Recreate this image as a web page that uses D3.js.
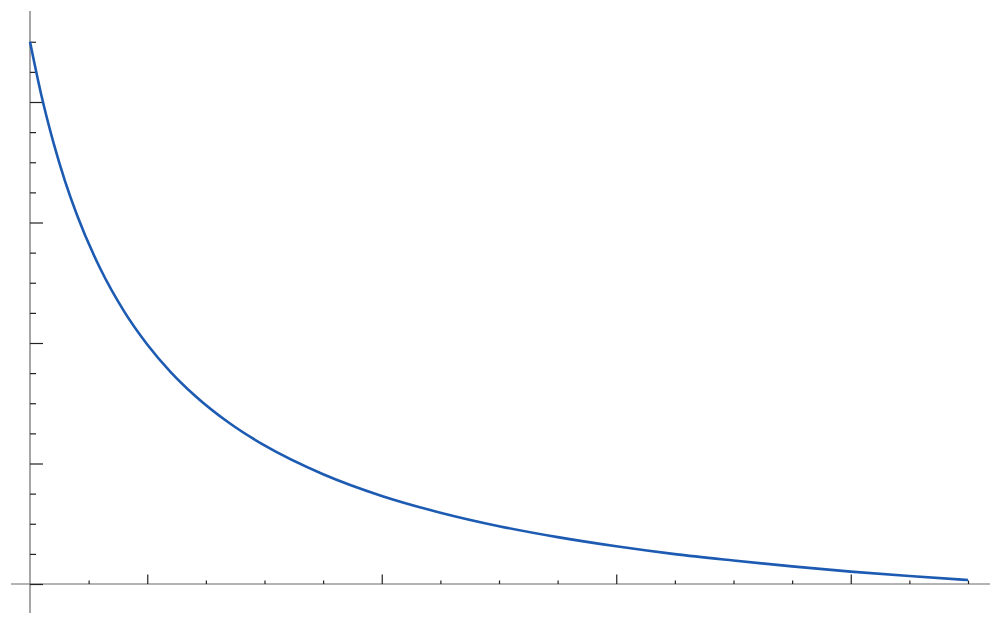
<!DOCTYPE html>
<html>
<head>
<meta charset="utf-8">
<script src="https://cdn.jsdelivr.net/npm/d3@7"></script>
<style>
  body { margin: 0; background: #fff; }
  svg { display: block; }
</style>
</head>
<body>
<div id="container"></div>
<script>
/* DATA (no labels in the original) */
const xValues = [0.5, 0.55, 0.6, 0.65, 0.7, 0.8, 0.9, 1.0, 1.1, 1.2,
                 1.35, 1.5, 1.75, 2.0, 2.25, 2.5, 2.75, 3.0, 3.25, 3.5,
                 3.75, 4.0, 4.25, 4.5];
const yValues = [4.500, 4.043, 3.663, 3.340, 3.064, 2.616, 2.267, 1.988, 1.759, 1.569,
                 1.336, 1.150, 0.911, 0.731, 0.592, 0.480, 0.389, 0.313, 0.248, 0.195,
                 0.146, 0.103, 0.066, 0.033];
const xMajorTicks = [1, 2, 3, 4];
const xMinorTicks = [0.75, 1.25, 1.5, 1.75, 2.25, 2.5, 2.75, 3.25, 3.5, 3.75, 4.25, 4.5];
const yMajorTicks = [0, 1, 2, 3, 4];
const yMinorTicks = [0.25, 0.5, 0.75, 1.25, 1.5, 1.75, 2.25, 2.5, 2.75, 3.25, 3.5, 3.75, 4.25, 4.5];

/* CONSTANTS */
const width = 1001, height = 626;
const axisColor = "#6b6b6b";
const tickColor = "#222";

const svg = d3.select("#container").append("svg")
    .attr("width", width)
    .attr("height", height);

const xScale = d3.scaleLinear()
    .domain([0.5, 4.5])
    .range([30, 968]);

const yScale = d3.scaleLinear()
    .domain([0, 4.5])
    .range([584, 41.75]);

// axis lines, a bit past the ends like the original
svg.append("line")
    .attr("x1", 11).attr("x2", 990)
    .attr("y1", yScale(0)).attr("y2", yScale(0))
    .attr("stroke", axisColor)
    .attr("stroke-width", 1.2);

svg.append("line")
    .attr("x1", xScale(0.5)).attr("x2", xScale(0.5))
    .attr("y1", 11).attr("y2", 613)
    .attr("stroke", axisColor)
    .attr("stroke-width", 1.2);

// ticks, no labels
function addTicks(axis, transform) {
  const g = svg.append("g")
      .attr("transform", transform)
      .call(axis.tickFormat(""));
  g.select(".domain").remove();
  g.selectAll(".tick line")
      .attr("stroke", tickColor)
      .attr("stroke-width", 1.2);
}

addTicks(d3.axisTop(xScale).tickValues(xMajorTicks).tickSize(9.5),
  "translate(0," + yScale(0) + ")");
addTicks(d3.axisTop(xScale).tickValues(xMinorTicks).tickSize(3.5),
  "translate(0," + yScale(0) + ")");
addTicks(d3.axisRight(yScale).tickValues(yMajorTicks).tickSize(13),
  "translate(" + xScale(0.5) + ",0)");
addTicks(d3.axisRight(yScale).tickValues(yMinorTicks).tickSize(6),
  "translate(" + xScale(0.5) + ",0)");

// the curve
const points = xValues.map((x, i) => ({x: x, y: yValues[i]}));

const line = d3.line()
    .x(d => xScale(d.x))
    .y(d => yScale(d.y))
    .curve(d3.curveMonotoneX);

svg.append("path")
    .datum(points)
    .attr("fill", "none")
    .attr("stroke", "#1d5bb2")
    .attr("stroke-width", 2.6)
    .attr("stroke-linejoin", "round")
    .attr("d", line);
</script>
</body>
</html>
